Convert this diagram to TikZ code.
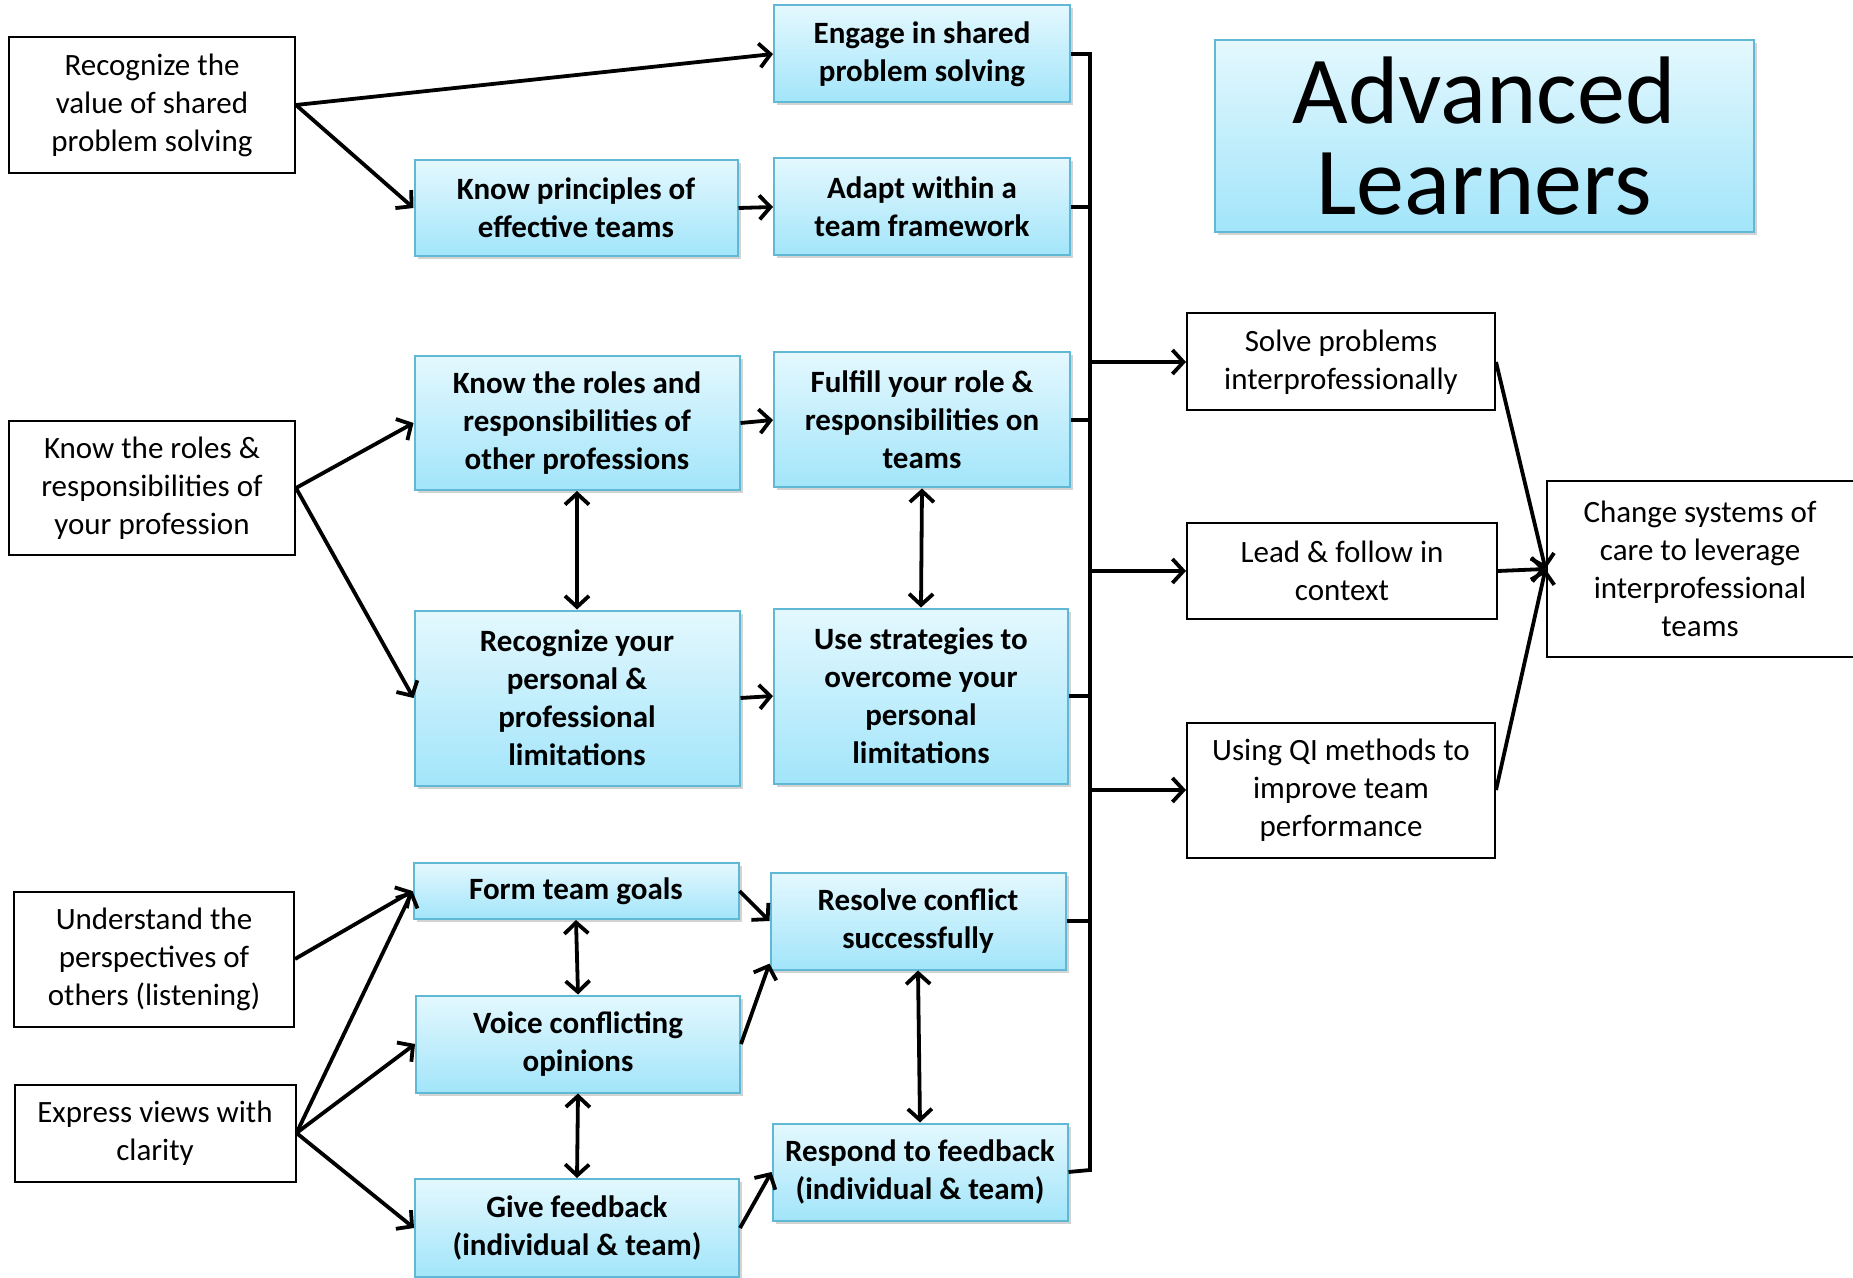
\documentclass[tikz,border=0pt]{standalone}
\usepackage{fontspec}
\setmainfont{Carlito}
\usetikzlibrary{positioning,arrows.meta,shadows}

\definecolor{hellblau}{RGB}{228,248,254}
\definecolor{tiefblau}{RGB}{162,229,250}
\definecolor{blaurand}{RGB}{96,184,212}

\begin{document}
\begin{tikzpicture}[
    x=0.5pt, y=-0.5pt,
    >={Straight Barb[length=5.5pt,width=12pt]},
    linie/.style={line width=1.9pt},
    pfeil/.style={->, line width=1.9pt},
    doppel/.style={<->, line width=1.9pt},
    gr/.style 2 args={minimum width=#1*0.5pt, minimum height=#2*0.5pt},
    kasten/.style={rectangle, draw=blaurand, line width=1pt, top color=hellblau, bottom color=tiefblau,
    drop shadow={shadow xshift=1.5pt, shadow yshift=-1.5pt, opacity=.35},
    font=\bfseries\fontsize{15.5}{19}\selectfont, align=center, inner sep=0pt},
    rahmen/.style={rectangle, draw=black, line width=1pt, fill=white,
    font=\fontsize{15.5}{19}\selectfont, align=center, inner sep=0pt}
    ]

\useasboundingbox (0,0) rectangle (1853,1278);

% linke Spalte
\node[rahmen, gr={286}{136}] (wert) at (152,105) {Recognize the\\value of shared\\problem solving};
\node[rahmen, gr={286}{134}] (eigen) at (152,488) {Know the roles \&\\responsibilities of\\your profession};
\node[rahmen, gr={280}{135}] (zuhoeren) at (154,959) {Understand the\\perspectives of\\others (listening)};
\node[rahmen, gr={281}{97}] (klarheit) at (155,1133) {Express views with\\clarity};

% mittlere Spalte
\node[kasten, gr={323}{96}] (prinzip) at (576,208) {Know principles of\\effective teams};
\node[kasten, gr={325}{134}] (rollen) at (577,423) {Know the roles and\\responsibilities of\\other professions};
\node[kasten, gr={325}{175}] (grenzen) at (577,698) {Recognize your\\personal \&\\professional\\limitations};
\node[kasten, gr={325}{56}] (ziele) at (576,891) {Form team goals};
\node[kasten, gr={324}{97}] (meinung) at (578,1044) {Voice conflicting\\opinions};
\node[kasten, gr={324}{98}] (geben) at (577,1228) {Give feedback\\(individual \& team)};

% rechte Spalte
\node[kasten, gr={296}{97}] (loesen) at (922,54) {Engage in shared\\problem solving};
\node[kasten, gr={296}{97}] (anpassen) at (922,207) {Adapt within a\\team framework};
\node[kasten, gr={296}{135}] (erfuellen) at (922,420) {Fulfill your role \&\\responsibilities on\\teams};
\node[kasten, gr={294}{175}] (strategie) at (921,696) {Use strategies to\\overcome your\\personal\\limitations};
\node[kasten, gr={295}{97}] (konflikt) at (918,921) {Resolve conflict\\successfully};
\node[kasten, gr={295}{97}] (antwort) at (920,1172) {Respond to feedback\\(individual \& team)};

% Ergebnisse
\node[rahmen, gr={308}{97}] (probleme) at (1341,362) {Solve problems\\interprofessionally};
\node[rahmen, gr={310}{96}] (fuehren) at (1342,571) {Lead \& follow in\\context};
\node[rahmen, gr={308}{135}] (qi) at (1341,790) {Using QI methods to\\improve team\\performance};
\node[rahmen, gr={307}{175}] (system) at (1700,569) {Change systems of\\care to leverage\\interprofessional\\teams};

\node[kasten, gr={539}{192}, font=\fontsize{48}{45.5}\selectfont] (titel) at (1484,136) {Advanced\\Learners};

% Pfeile links
\draw[pfeil] (wert.east) -- (loesen.west);
\draw[pfeil] (wert.east) -- (prinzip.west);
\draw[pfeil] (prinzip.east) -- (anpassen.west);
\draw[pfeil] (eigen.east) -- (rollen.west);
\draw[pfeil] (eigen.east) -- (grenzen.west);
\draw[pfeil] (rollen.east) -- (erfuellen.west);
\draw[pfeil] (grenzen.east) -- (strategie.west);
\draw[doppel] (rollen.south) -- (grenzen.north);
\draw[doppel] (erfuellen.south) -- (strategie.north);

\draw[pfeil] (zuhoeren.east) -- (ziele.west);
\draw[pfeil] (klarheit.east) -- (ziele.west);
\draw[pfeil] (klarheit.east) -- (meinung.west);
\draw[pfeil] (klarheit.east) -- (geben.west);
\draw[pfeil] (ziele.east) -- (konflikt.west);
\draw[pfeil] (meinung.east) -- (konflikt.196);
\draw[pfeil] (geben.east) -- (antwort.west);
\draw[doppel] (ziele.south) -- (meinung.north);
\draw[doppel] (meinung.south) -- (geben.north);
\draw[doppel] (konflikt.south) -- (antwort.north);

% Sammelschiene
\coordinate (oben) at (1090,52);
\coordinate (unten) at (1090,1170);
\draw[linie] (loesen.east) -| (unten) -- (antwort.east);
\foreach \k in {anpassen,erfuellen,strategie,konflikt}
    \draw[linie] (\k.east) -- (\k.east -| oben);
\foreach \z in {probleme,fuehren,qi}
    \draw[pfeil] (\z.west -| oben) -- (\z.west);
\foreach \z in {probleme,fuehren,qi}
    \draw[pfeil] (\z.east) -- (system.west);
\end{tikzpicture}
\end{document}
